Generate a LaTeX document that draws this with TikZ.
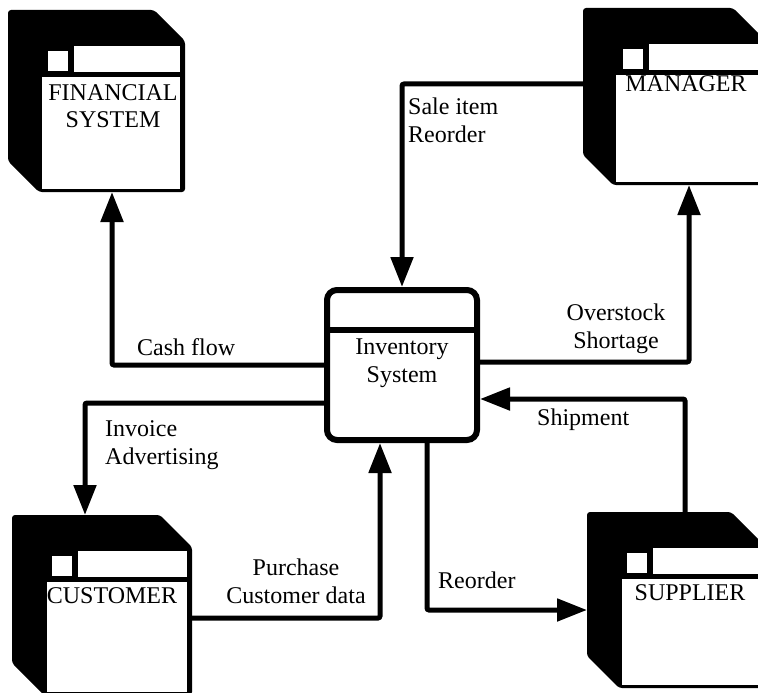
\documentclass[tikz,border=0pt]{standalone}
\usepackage{fontspec}
\setmainfont{Liberation Serif}
\usetikzlibrary{arrows.meta}
\newcommand\entityshape[6]{% #1 name, #2 L, #3 T, #4 R, #5 B, #6 chamfer
  \fill[black, rounded corners=3pt] (#2,#3) -- ({#4-#6},#3) -- (#4,{#3+#6}) -- (#4,#5)
     -- ({#2+#6},#5) -- (#2,{#5-#6}) -- cycle;
  \fill[white] ({#2+40},{#3+41}) rectangle ({#2+60},{#3+61});
  \fill[white] ({#2+66},{#3+36}) rectangle ({#4-5},{#3+62});
  \fill[white] ({#2+#6+3},{#3+67}) rectangle ({#4-5},{#5-3});
  \node[inner sep=0pt, outer sep=0pt, minimum width={#4-#2}, minimum height={#5-#3}]
     (#1) at ({(#2+#4)/2},{(#3+#5)/2}) {};
}
\begin{document}
\begin{tikzpicture}[x=1pt, y=-1pt,
  every node/.style={font=\fontsize{24}{28}\selectfont},
  flow/.style={line width=5pt, rounded corners=2pt, -{Triangle[length=30pt,width=22pt]}},
  lbl/.style={inner sep=0pt, anchor=base west, align=left},
  lblc/.style={inner sep=0pt, anchor=base, align=center}]
\useasboundingbox (0,0) rectangle (758,693);
\fill[white] (0,0) rectangle (758,693);

% entities
\entityshape{fin}{8}{10}{185}{192}{31}
\entityshape{man}{583}{8}{763}{185}{30}
\entityshape{cus}{12}{515}{192}{695}{32}
\entityshape{sup}{587}{512}{763}{688}{32}

% (base anchor of a multi-line node = last line's baseline)
\node[lblc] (fintxt) at (113,128) {FINANCIAL\\SYSTEM};
\node[lblc] (mantxt) at (686,92) {MANAGER};
\node[lblc] (custxt) at (112,603) {CUSTOMER};
\node[lblc] (suptxt) at (690,600) {SUPPLIER};

% process
\node[draw, line width=6pt, rounded corners=10pt, minimum width=150pt, minimum height=150pt,
      inner sep=0pt] (inv) at (402,365) {};
\draw[line width=6pt] (330,330) -- (474,330);
\node[lblc] (invtxt) at (402,382) {Inventory\\System};

% bend coordinates
\coordinate (c1) at (112,365);
\coordinate (c2) at (85,403);
\coordinate (c3) at (402,84);
\coordinate (c4) at (689,362);
\coordinate (c5) at (685,399);
\coordinate (c6) at (380,618);
\coordinate (c7) at (427,610);

% flows
\draw[flow] (inv.west |- c1) -- (c1) -- (fin.south -| c1);
\draw[flow] (inv.west |- c2) -- (c2) -- (cus.north -| c2);
\draw[flow] (man.west |- c3) -- (c3) -- (inv.north);
\draw[flow] (inv.east |- c4) -- (c4) -- (man.south -| c4);
\draw[flow] (sup.north -| c5) -- (c5) -- (inv.east |- c5);
\draw[flow] (cus.east |- c6) -- (c6) -- (inv.south -| c6);
\draw[flow] (inv.south -| c7) -- (c7) -- (sup.west |- c7);

% labels
\node[lbl] (l1) at (137,355) {Cash flow};
\node[lbl] (l2) at (408,142) {Sale item\\Reorder};
\node[lblc] (l3) at (616,348) {Overstock\\Shortage};
\node[lbl] (l4) at (105,464) {Invoice\\Advertising};
\node[lblc] (l5) at (296,603) {Purchase\\Customer data};
\node[lbl] (l6) at (537,425) {Shipment};
\node[lbl] (l7) at (438,588) {Reorder};
\end{tikzpicture}
\end{document}
